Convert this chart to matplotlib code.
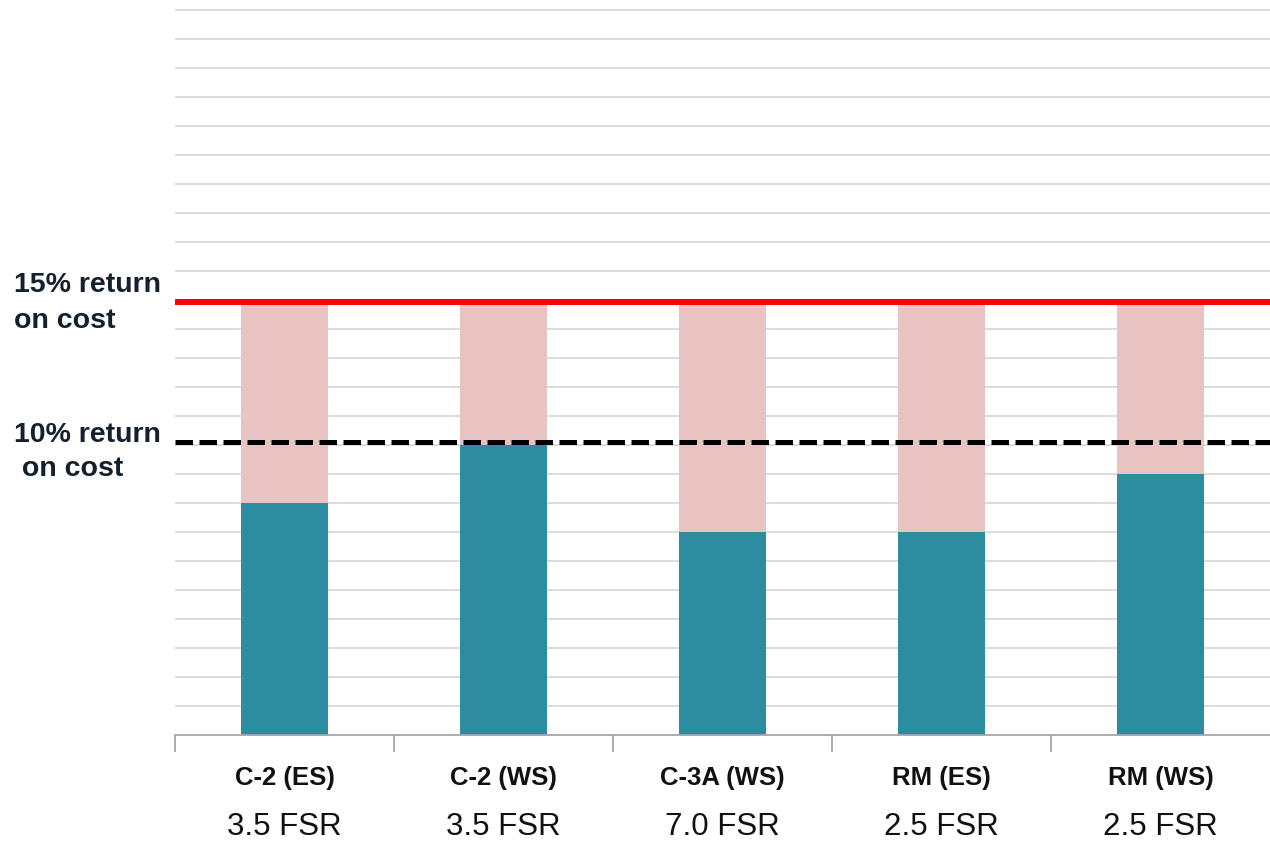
import numpy as np
import matplotlib
matplotlib.use("Agg")
import matplotlib.pyplot as plt
import matplotlib.transforms as mtransforms

# data
categories = ["C-2 (ES)", "C-2 (WS)", "C-3A (WS)", "RM (ES)", "RM (WS)"]
fsr_labels = ["3.5 FSR", "3.5 FSR", "7.0 FSR", "2.5 FSR", "2.5 FSR"]
base_values = [8, 10, 7, 7, 9]
target_values = [15, 15, 15, 15, 15]
line_15 = 14.95
line_10 = 10.1

teal = "#2E8CA1"
pink = "#E9C3C1"
navy = "#15202E"

fig = plt.figure(figsize=(12.7, 8.42), dpi=100)
ax = fig.add_axes([175 / 1270, 1 - 735 / 842, 1 - 175 / 1270, 735 / 842])

x = np.arange(len(categories))
gap = [t - b for t, b in zip(target_values, base_values)]
ax.bar(x, base_values, width=0.4, color=teal, zorder=2)
ax.bar(x, gap, bottom=base_values, width=0.4, color=pink, zorder=2)

ax.set_xlim(-0.5, len(categories) - 0.5)
ax.set_ylim(0, 25.35)
ax.set_yticks(np.arange(1, 26))
ax.yaxis.grid(True, color="#D9D9D9", linewidth=1.3, zorder=0)
ax.set_axisbelow(True)
ax.tick_params(axis="y", length=0, labelleft=False)

# reference lines
ax.axhline(line_15, color="#FF0000", linewidth=4.3, zorder=3)
ax.axhline(line_10, color="black", linewidth=3.6, dashes=(3.5, 1.3),
           dash_capstyle="butt", zorder=3)

# x axis with ticks between categories
ax.set_xticks(np.arange(-0.5, len(categories) - 1, 1.0))
ax.tick_params(axis="x", length=12, width=1.3, color="#A6A6A6", labelbottom=False)
for s in ["top", "right", "left"]:
    ax.spines[s].set_visible(False)
ax.spines["bottom"].set_color("#A6A6A6")
ax.spines["bottom"].set_linewidth(1.3)

trans = mtransforms.blended_transform_factory(ax.transData, fig.transFigure)
for i, (cat, fsr) in enumerate(zip(categories, fsr_labels)):
    ax.text(i, 1 - 778 / 842, cat, transform=trans, ha="center", va="center",
            fontsize=18.5, fontweight="bold", family="Liberation Sans", color="#111111")
    ax.text(i, 1 - 827 / 842, fsr, transform=trans, ha="center", va="center",
            fontsize=22.5, family="Liberation Sans", color="#111111")

# left annotations
for txt, ypx in [("15% return", 285), ("on cost", 321), ("10% return", 435), (" on cost", 469)]:
    fig.text(14 / 1270, 1 - ypx / 842, txt, ha="left", va="center", fontsize=20.5,
             fontweight="bold", family="Liberation Sans", color=navy)

fig.savefig("out.png", dpi=100)
